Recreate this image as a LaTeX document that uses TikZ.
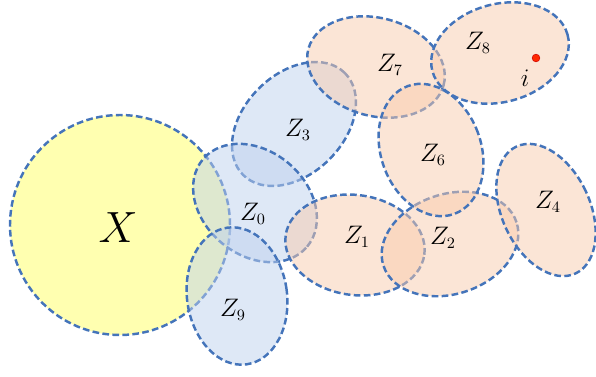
\documentclass[tikz,border=0pt]{standalone}
\usepackage{tikz}
\usepackage{amsmath}
\definecolor{setborder}{RGB}{68,116,186}
\definecolor{setblue}{RGB}{190,209,238}
\definecolor{setorange}{RGB}{248,203,173}
\definecolor{setyellow}{RGB}{255,255,98}
\definecolor{dotred}{RGB}{255,40,0}
\tikzset{
    region/.style    = {draw=setborder, line width=1.4pt, dash pattern=on 3.8pt off 1.9pt, fill opacity=0.5},
    blueset/.style   = {region, fill=setblue},
    orangeset/.style = {region, fill=setorange},
    spaceset/.style  = {region, fill=setyellow},
    setlabel/.style  = {inner sep=0pt, font=\fontsize{13.5}{15}\selectfont}
}
\begin{document}
\begin{tikzpicture}[
    x=0.02cm, y=0.02cm,
    bigmark/.style={inner sep=0pt, font=\fontsize{27}{30}\selectfont},
    pointdot/.style={circle, fill=dotred, draw=red!80!black, line width=0.3pt, inner sep=0pt, minimum size=4.4pt}
]
    \useasboundingbox (0,0) rectangle (596,376);
    \draw[spaceset]  (120,151) circle [radius=110];
    \draw[blueset]   (294,252) ellipse [x radius=72, y radius=50, rotate=45];
    \draw[blueset]   (255,173) ellipse [x radius=68, y radius=52, rotate=-40];
    \draw[blueset]   (237,80)  ellipse [x radius=50, y radius=69, rotate=8];
    \draw[orangeset] (355,131) ellipse [x radius=70, y radius=50, rotate=-8];
    \draw[orangeset] (376,309) ellipse [x radius=70, y radius=49, rotate=-15];
    \draw[orangeset] (500,323) ellipse [x radius=70, y radius=49, rotate=15];
    \draw[orangeset] (450,132) ellipse [x radius=70, y radius=50, rotate=18];
    \draw[orangeset] (546,166) ellipse [x radius=44, y radius=70, rotate=25];
    \draw[orangeset] (431,226) ellipse [x radius=50, y radius=68, rotate=20];
    \node[bigmark]  (x)  at (118,148) {$X$};
    \node[setlabel] (z0) at (253,162) {$Z_0$};
    \node[setlabel] (z1) at (357,139) {$Z_1$};
    \node[setlabel] (z2) at (443,138) {$Z_2$};
    \node[setlabel] (z3) at (298,246) {$Z_3$};
    \node[setlabel] (z4) at (548,174) {$Z_4$};
    \node[setlabel] (z6) at (433,221) {$Z_6$};
    \node[setlabel] (z7) at (390,311) {$Z_7$};
    \node[setlabel] (z8) at (478,333) {$Z_8$};
    \node[setlabel] (z9) at (233,66)  {$Z_9$};
    \node[pointdot] (pt) at (536,318) {};
    \node[setlabel] (ptlabel) at (525,298) {$i$};
\end{tikzpicture}
\end{document}
